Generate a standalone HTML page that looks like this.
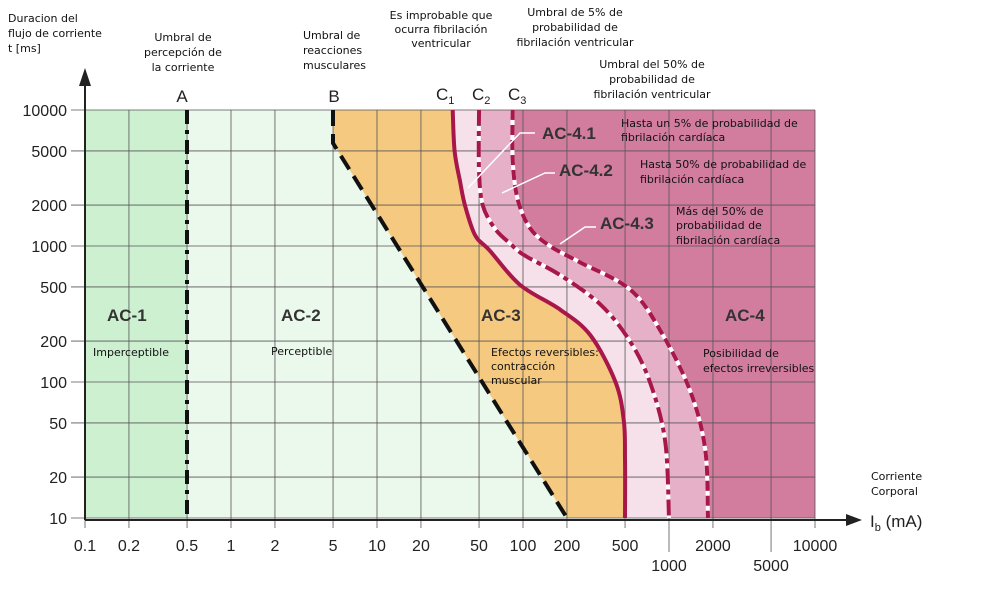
<!DOCTYPE html>
<html><head><meta charset="utf-8"><style>
body{margin:0;background:#fff;}
svg{display:block;font-family:"Liberation Sans",sans-serif;}
.t{font-family:"DejaVu Sans","Liberation Sans",sans-serif;font-size:11px;fill:#111;}
.ax{font-size:16px;fill:#222;}
.zone{font-size:17px;font-weight:bold;fill:#333;}
</style></head><body>
<svg id="chart" width="994" height="599" viewBox="0 0 994 599"></svg>
<script>
const xTicksUpper=[0.1,0.2,0.5,1,2,5,10,20,50,100,200,500,2000,10000];
const xTicksLower=[1000,5000];
const yTicks=[10,20,50,100,200,500,1000,2000,5000,10000];
const lineA=[[0.5,10000],[0.5,10]];
const lineB=[[5,10000],[5,5700],[200,10]];
const curveC1=[[33,10000],[34,5000],[37,3000],[40,2000],[47,1200],[59,930],[95,520],[180,340],[290,220],[430,100],[490,52],[500,27],[500,10]];
const curveC2=[[50,10000],[50,3600],[53,2000],[64,1350],[81,1050],[103,850],[180,610],[340,370],[540,200],[740,100],[940,37],[1000,10]];
const curveC3=[[85,10000],[85,4300],[92,2200],[112,1350],[153,1000],[245,760],[540,480],[870,240],[1390,87],[1770,32],[1850,10]];

const X=v=>85+146*(Math.log10(v)+1);
const Y=v=>518-136*(Math.log10(v)-1);
const svg=document.getElementById('chart');
const NS='http://www.w3.org/2000/svg';
function mk(tag,attrs,parent){const e=document.createElementNS(NS,tag);for(const k in attrs)e.setAttribute(k,attrs[k]);(parent||svg).appendChild(e);return e;}
function pts(arr){return arr.map(p=>X(p[0]).toFixed(1)+','+Y(p[1]).toFixed(1)).join(' ');}
function smooth(arr){const P=arr.map(p=>[X(p[0]),Y(p[1])]);let d='M'+P[0][0]+','+P[0][1];
 for(let i=0;i<P.length-1;i++){const p0=P[Math.max(0,i-1)],p1=P[i],p2=P[i+1],p3=P[Math.min(P.length-1,i+2)];
 const c1=[p1[0]+(p2[0]-p0[0])/6,p1[1]+(p2[1]-p0[1])/6],c2=[p2[0]-(p3[0]-p1[0])/6,p2[1]-(p3[1]-p1[1])/6];
 d+=' C'+c1[0].toFixed(1)+','+c1[1].toFixed(1)+' '+c2[0].toFixed(1)+','+c2[1].toFixed(1)+' '+p2[0].toFixed(1)+','+p2[1].toFixed(1);}return d;}
const x0=X(0.1),x1=X(10000),y0=Y(10),y1=Y(10000);
let e;
e=mk('rect',{x:x0,y:y1,width:x1-x0,height:y0-y1,fill:'#ebf8ec'});

e=mk('rect',{x:x0,y:y1,width:X(0.5)-x0,height:y0-y1,fill:'#cdf0d0'});

e=mk('polygon',{points:pts(lineB)+' '+x1+','+y0+' '+x1+','+y1,fill:'#f6c980'});

function region(c,fill,name){const d=smooth(c)+' L'+x1+','+y0+' L'+x1+','+y1+' Z';const r=mk('path',{d:d,fill:fill});
 }
region(curveC1,'#f6e1ea','zone-ac4-1');
region(curveC2,'#e6b0c8','zone-ac4-2');
region(curveC3,'#d27c9e','zone-ac4');
// grid
[...xTicksUpper,...xTicksLower].forEach(v=>{const g=mk('line',{x1:X(v),x2:X(v),y1:y1,y2:y0+(xTicksLower.includes(v)?34:10),stroke:'#555','stroke-width':0.8});
 });
yTicks.forEach(v=>{const g=mk('line',{x1:x0-14,x2:x1,y1:Y(v),y2:Y(v),stroke:'#555','stroke-width':0.8});
 });
// axes
e=mk('line',{x1:x0,x2:850,y1:y0+2,y2:y0+2,stroke:'#222','stroke-width':2});
e=mk('polygon',{points:'862,'+(y0+2)+' 846,'+(y0-4)+' 846,'+(y0+8),fill:'#222'});
e=mk('line',{x1:x0,x2:x0,y1:y0+2,y2:82,stroke:'#222','stroke-width':2});
e=mk('polygon',{points:x0+',68 '+(x0-6)+',86 '+(x0+6)+',86',fill:'#222'});
// lines
e=mk('polyline',{points:pts(lineA),fill:'none',stroke:'#111','stroke-width':4,'stroke-dasharray':'14,6,4,6'});
e=mk('polyline',{points:pts(lineB),fill:'none',stroke:'#111','stroke-width':4,'stroke-dasharray':'16,8'});
e=mk('path',{d:smooth(curveC1),fill:'none',stroke:'#a8174a','stroke-width':4});
mk('path',{d:smooth(curveC2),fill:'none',stroke:'#fff','stroke-width':4});
e=mk('path',{d:smooth(curveC2),fill:'none',stroke:'#a8174a','stroke-width':4,'stroke-dasharray':'16,5,5,5'});
mk('path',{d:smooth(curveC3),fill:'none',stroke:'#fff','stroke-width':4});
e=mk('path',{d:smooth(curveC3),fill:'none',stroke:'#a8174a','stroke-width':4,'stroke-dasharray':'10,5'});
// ticks labels
function txt(x,y,s,cls,anchor,name){const t=mk('text',{x:x,y:y,'class':cls,'text-anchor':anchor||'start'});t.textContent=s;
 return t;}
xTicksUpper.forEach(v=>txt(X(v),551,String(v),'ax','middle','x-tick-label'));
xTicksLower.forEach(v=>txt(X(v),571,String(v),'ax','middle','x-tick-label'));
yTicks.forEach(v=>txt(67,Y(v)+6,String(v),'ax','end','y-tick-label'));
// leader lines
[[[468,188],[520,133],[535,133]],[[502,193],[545,173],[555,173]],[[560,244],[585,227],[596,227]]].forEach(l=>{
 const p=mk('polyline',{points:l.map(q=>q.join(',')).join(' '),fill:'none',stroke:'#fff','stroke-width':1.5});
 });
</script>
<svg style="position:absolute;left:0;top:0" width="994" height="599">
<g font-family="DejaVu Sans, Liberation Sans, sans-serif" font-size="11" fill="#111">
<text x="8" y="22">Duracion del</text>
<text x="8" y="37">flujo de corriente</text>
<text x="8" y="52">t [ms]</text>
<text x="183" y="41" text-anchor="middle">Umbral de</text>
<text x="183" y="56" text-anchor="middle">percepción de</text>
<text x="183" y="71" text-anchor="middle">la corriente</text>
<text x="303" y="39">Umbral de</text>
<text x="303" y="54">reacciones</text>
<text x="303" y="69">musculares</text>
<text x="441" y="19" text-anchor="middle">Es improbable que</text>
<text x="441" y="33" text-anchor="middle">ocurra fibrilación</text>
<text x="441" y="47" text-anchor="middle">ventricular</text>
<text x="575" y="16" text-anchor="middle">Umbral de 5% de</text>
<text x="575" y="31" text-anchor="middle">probabilidad de</text>
<text x="575" y="46" text-anchor="middle">fibrilación ventricular</text>
<text x="652" y="68" text-anchor="middle">Umbral del 50% de</text>
<text x="652" y="83" text-anchor="middle">probabilidad de</text>
<text x="652" y="98" text-anchor="middle">fibrilación ventricular</text>
<text x="621" y="127">Hasta un 5% de probabilidad de</text>
<text x="621" y="141">fibrilación cardíaca</text>
<text x="640" y="168">Hasta 50% de probabilidad de</text>
<text x="640" y="183">fibrilación cardíaca</text>
<text x="676" y="215">Más del 50% de</text>
<text x="676" y="229">probabilidad de</text>
<text x="676" y="244">fibrilación cardíaca</text>
<text x="93" y="356">Imperceptible</text>
<text x="271" y="355">Perceptible</text>
<text x="491" y="356">Efectos reversibles:</text>
<text x="491" y="370">contracción</text>
<text x="491" y="384">muscular</text>
<text x="703" y="357">Posibilidad de</text>
<text x="703" y="372">efectos irreversibles</text>
<text x="871" y="480">Corriente</text>
<text x="871" y="495">Corporal</text>
</g>
<g font-family="Liberation Sans, sans-serif" font-size="17" font-weight="bold" fill="#333">
<text x="107" y="321">AC-1</text>
<text x="281" y="321">AC-2</text>
<text x="481" y="321">AC-3</text>
<text x="725" y="321">AC-4</text>
<text x="542" y="139">AC-4.1</text>
<text x="559" y="176">AC-4.2</text>
<text x="600" y="229">AC-4.3</text>
</g>
<g font-family="Liberation Sans, sans-serif" font-size="17" fill="#222">
<text x="182" y="102" text-anchor="middle">A</text>
<text x="334" y="102" text-anchor="middle">B</text>
<text x="436" y="100">C<tspan font-size="11" dy="4">1</tspan></text>
<text x="472" y="100">C<tspan font-size="11" dy="4">2</tspan></text>
<text x="508" y="100">C<tspan font-size="11" dy="4">3</tspan></text>
<text x="870" y="527">I<tspan font-size="11" dy="4">b</tspan><tspan dy="-4"> (mA)</tspan></text>
</g>
</svg>
</body></html>
